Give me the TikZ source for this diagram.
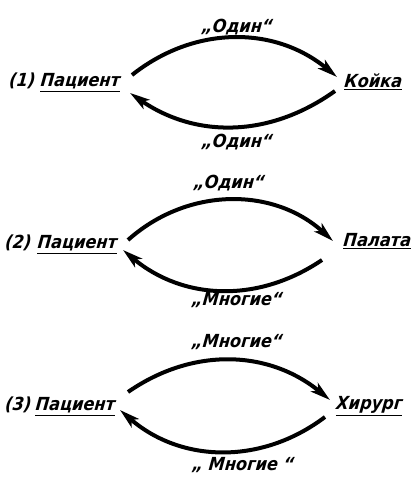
\documentclass[tikz,border=0pt]{standalone}
\usepackage{fontspec}
\newfontfamily\lab{DejaVu Sans Condensed Bold Oblique}[FakeSlant=0.1]
\usetikzlibrary{arrows.meta}
\begin{document}
\begin{tikzpicture}[x=1pt,y=1pt,
  lbl/.style={font=\lab\fontsize{18}{18}\selectfont, inner sep=0pt, anchor=base},
  arr/.style={line width=4pt, -{Stealth[length=20pt,width=11pt,inset=5pt]}}]
\useasboundingbox (0,0) rectangle (419,482);
% (1)
\node[lbl] (n1) at (22,395) {(1)};
\node[lbl] (p1) at (80,395) {\underline{Пациент}};
\node[lbl] (k1) at (373,394) {\underline{Койка}};
\node[lbl] (t1) at (237,449) {„Один“};
\node[lbl] (b1) at (237,334) {„Один“};
\draw[arr] ([shift={(52,12)}]p1.base) to[bend left=39] ([shift={(-36,11)}]k1.base);
\draw[arr] ([shift={(-38,-3)}]k1.base) to[bend left=35] ([shift={(50,-6)}]p1.base);
% (2)
\node[lbl] (n2) at (18,233) {(2)};
\node[lbl] (p2) at (77,233) {\underline{Пациент}};
\node[lbl] (l2) at (377,235) {\underline{Палата}};
\node[lbl] (t2) at (229,293) {„Один“};
\node[lbl] (b2) at (237,176) {„Многие“};
\draw[arr] ([shift={(51,9)}]p2.base) to[bend left=42] ([shift={(-44,6)}]l2.base);
\draw[arr] ([shift={(-55,-13)}]l2.base) to[bend left=37] ([shift={(46,-1)}]p2.base);
% (3)
\node[lbl] (n3) at (18,71) {(3)};
\node[lbl] (p3) at (75,71) {\underline{Пациент}};
\node[lbl] (h3) at (369,72) {\underline{Хирург}};
\node[lbl] (t3) at (237,134) {„Многие“};
\node[lbl] (b3) at (243,12) {„ Многие “};
\draw[arr] ([shift={(53,19)}]p3.base) to[bend left=37] ([shift={(-39,10)}]h3.base);
\draw[arr] ([shift={(-44,-7)}]h3.base) to[bend left=39] ([shift={(45,1)}]p3.base);
\end{tikzpicture}
\end{document}
